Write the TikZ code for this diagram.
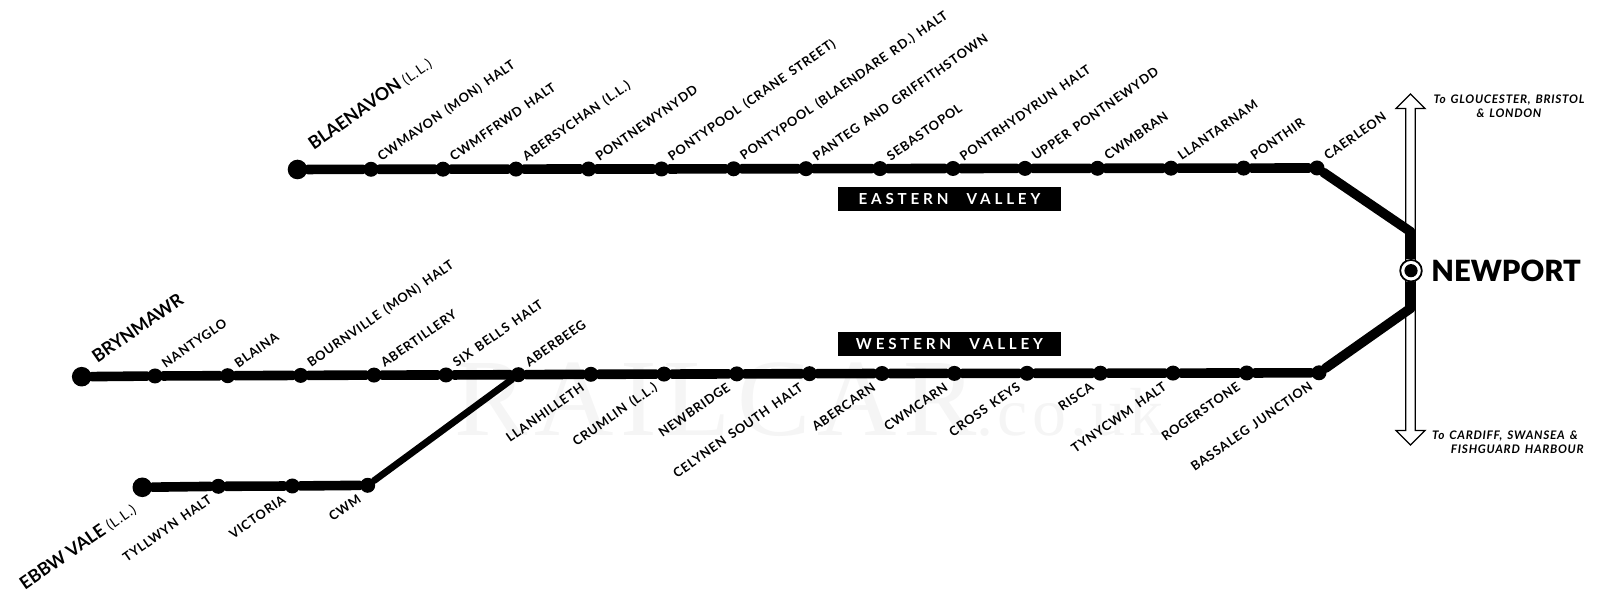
\documentclass[tikz,border=0pt]{standalone}
\usepackage{fontspec}
\setmainfont{Lato}
\usetikzlibrary{shapes.arrows}
\newfontfamily\namefont[LetterSpace=6,WordSpace=1.5]{Lato}
\newfontfamily\bigfont{Lato}
\newfontfamily\heavyfont{Lato Black}
\newfontfamily\valleyfont[LetterSpace=25]{Lato}
\newfontfamily\wmfont[LetterSpace=6]{Liberation Serif}
\tikzset{
my track/.style={line width=4.8pt,line join=round,line cap=round},
my thin track/.style={line width=3.4pt,line join=round,line cap=round},
my stem/.style={line width=4.8pt},
my halt/.style={circle,fill=black,minimum size=7.5pt,inner sep=0pt},
my end/.style={circle,fill=black,minimum size=9.8pt,inner sep=0pt},
my label/.style={inner sep=0pt,font=\namefont\fontsize{6.4}{7}\bfseries},
my up/.style={my label,xshift=4pt,yshift=5.5pt,rotate=35,anchor=west},
my down/.style={my label,xshift=-4pt,yshift=-6pt,rotate=35,anchor=east},
my big/.style={inner sep=0pt,rotate=35,font=\bigfont\fontsize{8.9}{10}\bfseries},
my valley/.style={fill=black,text=white,minimum width=111.5pt,minimum height=12pt,inner sep=0pt,font=\valleyfont\fontsize{7.6}{9}\bfseries},
my note/.style={inner sep=0pt,font=\namefont\fontsize{5.9}{7}\bfseries\itshape},
my arrow/.style={draw,fill=white,line width=0.6pt,double arrow,rotate=90,inner xsep=0pt,inner ysep=2.07pt,
  minimum height=175.5pt,double arrow head extend=4.9pt,double arrow tip angle=90},
my ring/.style={circle,draw=black,fill=white,line width=0.9pt,minimum size=10.8pt,inner sep=0pt},
my dot/.style={circle,fill=black,minimum size=6.6pt,inner sep=0pt},
}
\begin{document}
\begin{tikzpicture}[x=0.5pt,y=-0.5pt]
\useasboundingbox (0,0) rectangle (1600,597);
\node[anchor=west,inner sep=0pt,text=black!4,font=\wmfont\fontsize{55}{60}\selectfont] (wm) at (454,400) {RAILCAR\fontsize{34}{40}\selectfont.co.uk};
\node[my arrow] (rail) at (1410.5,269.5) {};
% eastern valley
\node[my end] (e1) at (297.5,169.5) {};
\node[my halt] (e2) at (371,169.3) {};
\node[my halt] (e3) at (443,169.2) {};
\node[my halt] (e4) at (516,169.1) {};
\node[my halt] (e5) at (588.6,169) {};
\node[my halt] (e6) at (661.5,169) {};
\node[my halt] (e7) at (733.6,168.8) {};
\node[my halt] (e8) at (806,168.7) {};
\node[my halt] (e9) at (880,168.6) {};
\node[my halt] (e10) at (953,168.5) {};
\node[my halt] (e11) at (1025,168.4) {};
\node[my halt] (e12) at (1097.5,168.3) {};
\node[my halt] (e13) at (1171,168.2) {};
\node[my halt] (e14) at (1243.6,168.1) {};
\node[my halt] (e15) at (1317,168) {};
% western valley
\node[my end] (w1) at (81.7,376.7) {};
\node[my halt] (w2) at (155,376) {};
\node[my halt] (w3) at (227.7,375.7) {};
\node[my halt] (w4) at (300.7,375.4) {};
\node[my halt] (w5) at (374,375.1) {};
\node[my halt] (w6) at (446,375) {};
\node[my halt] (w7) at (518.3,374.7) {};
\node[my halt] (w8) at (590.9,374.3) {};
\node[my halt] (w9) at (664,374.1) {};
\node[my halt] (w10) at (736.8,373.9) {};
\node[my halt] (w11) at (809.5,373.7) {};
\node[my halt] (w12) at (882,373.5) {};
\node[my halt] (w13) at (954.4,373.4) {};
\node[my halt] (w14) at (1027,373.3) {};
\node[my halt] (w15) at (1100.4,373.2) {};
\node[my halt] (w16) at (1173,373.1) {};
\node[my halt] (w17) at (1246.7,373) {};
\node[my halt] (w18) at (1319,372.8) {};
% ebbw vale
\node[my end] (b1) at (142.3,487.3) {};
\node[my halt] (b2) at (218.3,486.3) {};
\node[my halt] (b3) at (292.3,486) {};
\node[my halt] (b4) at (367.7,485.3) {};
% newport
\coordinate (nj) at (1411,232);
\coordinate (sj) at (1411,308);
\node[my ring] (np) at (1411,270.7) {};
\node[my dot] (npd) at (np) {};
\path[draw,my track]
  (e1) -- (e2) -- (e3) -- (e4) -- (e5) -- (e6) -- (e7) -- (e8) -- (e9) -- (e10)
  -- (e11) -- (e12) -- (e13) -- (e14) -- (e15) -- (nj);
\path[draw,my track]
  (w1) -- (w2) -- (w3) -- (w4) -- (w5) -- (w6) -- (w7) -- (w8) -- (w9) -- (w10)
  -- (w11) -- (w12) -- (w13) -- (w14) -- (w15) -- (w16) -- (w17) -- (w18) -- (sj);
\path[draw,my stem] (nj) -- (np);
\path[draw,my stem] (sj) -- (np);
\path[draw,my track] (b1) -- (b2) -- (b3) -- (b4);
\path[draw,my thin track] (b4) -- (w7);
% names
\node[my big,anchor=west,xshift=12pt,yshift=6pt] (e1t) at (e1) {BLAENAVON {\namefont\fontsize{7}{7}\selectfont\mdseries(L.L.)}};
\node[my up] (e2t) at (e2) {CWMAVON (MON) HALT};
\node[my up] (e3t) at (e3) {CWMFFRWD HALT};
\node[my up] (e4t) at (e4) {ABERSYCHAN (L.L.)};
\node[my up] (e5t) at (e5) {PONTNEWYNYDD};
\node[my up] (e6t) at (e6) {PONTYPOOL (CRANE STREET)};
\node[my up] (e7t) at (e7) {PONTYPOOL (BLAENDARE RD.) HALT};
\node[my up] (e8t) at (e8) {PANTEG AND GRIFFITHSTOWN};
\node[my up] (e9t) at (e9) {SEBASTOPOL};
\node[my up] (e10t) at (e10) {PONTRHYDYRUN HALT};
\node[my up] (e11t) at (e11) {UPPER PONTNEWYDD};
\node[my up] (e12t) at (e12) {CWMBRAN};
\node[my up] (e13t) at (e13) {LLANTARNAM};
\node[my up] (e14t) at (e14) {PONTHIR};
\node[my up] (e15t) at (e15) {CAERLEON};
\node[my big,anchor=west,xshift=10pt,yshift=4pt] (w1t) at (w1) {BRYNMAWR};
\node[my up] (w2t) at (w2) {NANTYGLO};
\node[my up] (w3t) at (w3) {BLAINA};
\node[my up] (w4t) at (w4) {BOURNVILLE (MON) HALT};
\node[my up] (w5t) at (w5) {ABERTILLERY};
\node[my up] (w6t) at (w6) {SIX BELLS HALT};
\node[my up] (w7t) at (w7) {ABERBEEG};
\node[my down] (w8t) at (w8) {LLANHILLETH};
\node[my down] (w9t) at (w9) {CRUMLIN (L.L.)};
\node[my down] (w10t) at (w10) {NEWBRIDGE};
\node[my down] (w11t) at (w11) {CELYNEN SOUTH HALT};
\node[my down] (w12t) at (w12) {ABERCARN};
\node[my down] (w13t) at (w13) {CWMCARN};
\node[my down] (w14t) at (w14) {CROSS KEYS};
\node[my down] (w15t) at (w15) {RISCA};
\node[my down] (w16t) at (w16) {TYNYCWM HALT};
\node[my down] (w17t) at (w17) {ROGERSTONE};
\node[my down] (w18t) at (w18) {BASSALEG JUNCTION};
\node[my big,anchor=east,xshift=-9pt,yshift=-6pt] (b1t) at (b1) {EBBW VALE {\namefont\fontsize{7}{7}\selectfont\mdseries(L.L.)}};
\node[my down] (b2t) at (b2) {TYLLWYN HALT};
\node[my down] (b3t) at (b3) {VICTORIA};
\node[my down] (b4t) at (b4) {CWM};
% valleys and destinations
\node[my valley] (east) at (949.5,199.3) {EASTERN\hspace{1.2em}VALLEY};
\node[my valley] (west) at (949.5,343.8) {WESTERN\hspace{1.2em}VALLEY};
\node[anchor=west,inner sep=0pt,font=\heavyfont\fontsize{14.6}{15}\selectfont] (npt) at (1431,271) {NEWPORT};
\node[my note,align=center] (tonorth) at (1509,106) {To GLOUCESTER, BRISTOL\\\& LONDON};
\node[my note,align=right,anchor=east] (tosouth) at (1584,442) {To CARDIFF, SWANSEA \&\hspace*{3pt}\\FISHGUARD HARBOUR};
\end{tikzpicture}
\end{document}
